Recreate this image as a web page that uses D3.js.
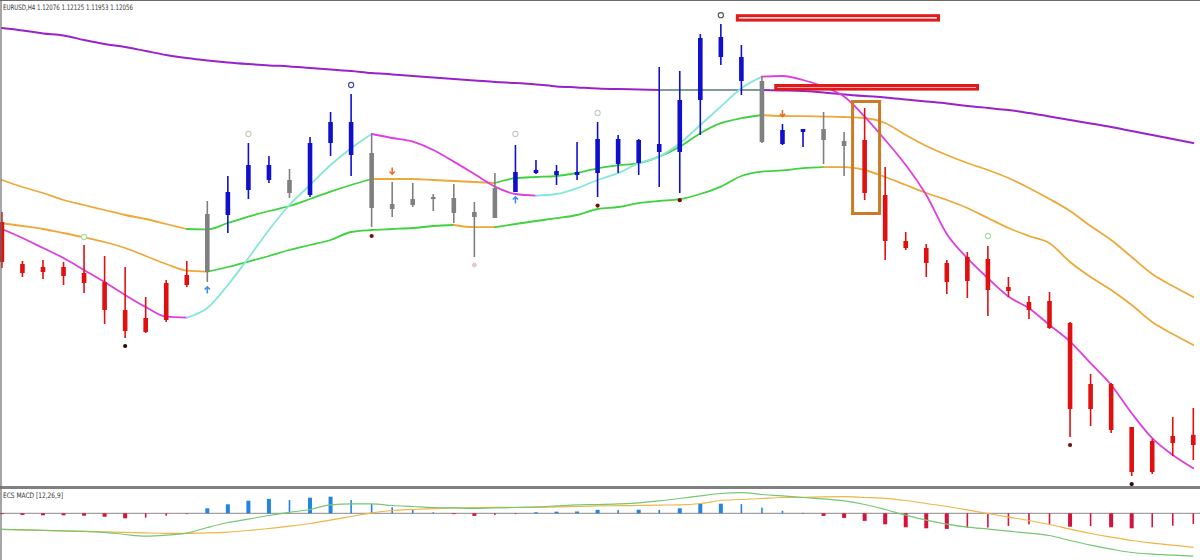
<!DOCTYPE html>
<html><head><meta charset="utf-8">
<script src="https://cdn.jsdelivr.net/npm/d3@7"></script>
<style>html,body{margin:0;padding:0;background:#fff;overflow:hidden}</style>
</head><body><svg id="c" width="1200" height="560"></svg>
<script>
const symbolName = "EURUSD,H4";
const quote = ["1.12076", "1.12125", "1.11953", "1.12056"];
const macdLabel = "ECS MACD [12,26,9]";

const opens  = [1.13140,1.12930,1.12915,1.12915,1.12885,1.12840,1.12700,1.12660,1.12650,1.12825,
  1.12890,1.13175,1.13300,1.13425,1.13350,1.13275,1.13535,1.13640,1.13485,1.13230,
  1.13225,1.13255,1.13260,1.13190,1.13160,1.13290,1.13385,1.13395,1.13375,1.13385,
  1.13555,1.13435,1.13530,1.13490,1.13750,1.14065,1.13965,1.13845,1.13530,1.13605,
  1.13605,1.13545,1.13550,1.13275,1.13045,1.13010,1.12935,1.12965,1.12955,1.12815,
  1.12740,1.12745,1.12635,1.12330,1.12330,1.12115,1.12045,1.12070,1.12076];
const highs  = [1.13190,1.12945,1.12950,1.12940,1.13025,1.12970,1.12915,1.12765,1.12850,1.12945,
  1.13245,1.13370,1.13535,1.13470,1.13405,1.13565,1.13690,1.13780,1.13575,1.13340,
  1.13335,1.13280,1.13330,1.13240,1.13385,1.13525,1.13450,1.13425,1.13540,1.13640,
  1.13575,1.13555,1.13915,1.13895,1.14080,1.14130,1.14025,1.13865,1.13630,1.13605,
  1.13690,1.13590,1.13710,1.13415,1.13090,1.13030,1.12950,1.12990,1.13020,1.12865,
  1.12770,1.12790,1.12640,1.12380,1.12335,1.12115,1.12055,1.12165,1.12210];
const lows   = [1.12910,1.12865,1.12855,1.12825,1.12785,1.12630,1.12560,1.12585,1.12640,1.12815,
  1.12840,1.13085,1.13255,1.13335,1.13260,1.13265,1.13470,1.13370,1.13115,1.13165,
  1.13215,1.13195,1.13135,1.12965,1.13160,1.13290,1.13380,1.13325,1.13350,1.13265,
  1.13385,1.13375,1.13315,1.13285,1.13575,1.13925,1.13775,1.13535,1.13525,1.13515,
  1.13430,1.13370,1.13250,1.12950,1.13000,1.12865,1.12780,1.12760,1.12670,1.12765,
  1.12655,1.12605,1.12065,1.12120,1.12085,1.11870,1.11880,1.11970,1.11950];
const closes = [1.12940,1.12885,1.12890,1.12870,1.12835,1.12700,1.12595,1.12590,1.12835,1.12875,
  1.13180,1.13290,1.13425,1.13350,1.13285,1.13535,1.13640,1.13475,1.13210,1.13205,
  1.13255,1.13265,1.13185,1.13165,1.13310,1.13390,1.13400,1.13375,1.13390,1.13555,
  1.13430,1.13550,1.13490,1.13750,1.14060,1.13965,1.13845,1.13540,1.13600,1.13590,
  1.13550,1.13520,1.13285,1.13045,1.13010,1.12935,1.12840,1.12845,1.12800,1.12795,
  1.12700,1.12610,1.12205,1.12205,1.12100,1.11890,1.11890,1.12035,1.12025];
// candle colour state: R = bearish trend, B = bullish trend, G = neutral
const candleState = "RRRRRRRRRRGBBBGBBBGGGGGGGBBBBBBBBBBBBGBBGGRRRRRRRRRRRRRRRRR";

const slowMA = [1.14110,1.14098,1.14083,1.14073,1.14050,1.14030,1.14015,1.13995,1.13975,1.13960,
  1.13948,1.13938,1.13930,1.13923,1.13918,1.13910,1.13903,1.13895,1.13885,1.13878,
  1.13870,1.13863,1.13855,1.13848,1.13840,1.13835,1.13828,1.13818,1.13813,1.13808,
  1.13805,1.13803,1.13800,1.13800,1.13800,1.13800,1.13800,1.13800,1.13798,1.13795,
  1.13788,1.13778,1.13770,1.13763,1.13753,1.13743,1.13733,1.13720,1.13710,1.13700,
  1.13685,1.13668,1.13650,1.13633,1.13615,1.13595,1.13575,1.13555,1.13535];
const slowState = "ppppppppppppppppppppppppppppppppp" + "fffff" + "ppppppppppppppppppppp";

const upperBand = [1.13350,1.13315,1.13285,1.13250,1.13225,1.13200,1.13175,1.13155,1.13130,1.13105,
  1.13103,1.13135,1.13167,1.13195,1.13220,1.13255,1.13292,1.13325,1.13355,1.13355,
  1.13355,1.13350,1.13345,1.13340,1.13335,1.13359,1.13365,1.13370,1.13385,1.13408,
  1.13423,1.13434,1.13467,1.13517,1.13584,1.13634,1.13659,1.13675,1.13670,1.13669,
  1.13667,1.13665,1.13660,1.13635,1.13575,1.13520,1.13475,1.13435,1.13400,1.13360,
  1.13310,1.13255,1.13195,1.13120,1.13050,1.12965,1.12880,1.12820,1.12765];
const upperState = "oooooooooo" + "ggggggggg" + "oooooo" + "ggggggggggggg" + "ooooooooooooooooooooo";

const lowerBand = [1.13134,1.13120,1.13105,1.13085,1.13063,1.13040,1.13010,1.12970,1.12930,1.12897,
  1.12892,1.12915,1.12942,1.12970,1.13000,1.13025,1.13050,1.13090,1.13100,1.13105,
  1.13110,1.13120,1.13125,1.13114,1.13114,1.13130,1.13145,1.13159,1.13175,1.13205,
  1.13215,1.13234,1.13245,1.13254,1.13280,1.13317,1.13370,1.13392,1.13398,1.13409,
  1.13414,1.13414,1.13400,1.13365,1.13325,1.13285,1.13250,1.13210,1.13160,1.13110,
  1.13070,1.13034,1.12940,1.12865,1.12800,1.12725,1.12640,1.12580,1.12525];
const lowerState = "ooooooooooo" + "gggggggggggg" + "oo" + "gggggggggggggggg" + "oooooooooooooooooo";

const fastMA = [1.13105,1.13060,1.13010,1.12960,1.12900,1.12840,1.12775,1.12715,1.12667,1.12662,
  1.12710,1.12825,1.12960,1.13100,1.13225,1.13325,1.13425,1.13509,1.13580,1.13560,
  1.13542,1.13500,1.13442,1.13380,1.13317,1.13280,1.13272,1.13280,1.13309,1.13350,
  1.13384,1.13434,1.13467,1.13534,1.13625,1.13717,1.13809,1.13867,1.13870,1.13850,
  1.13817,1.13767,1.13667,1.13550,1.13425,1.13275,1.13080,1.12959,1.12859,1.12767,
  1.12709,1.12625,1.12542,1.12434,1.12325,1.12184,1.12059,1.11975,1.11909];
const fastState = "dddddddddd" + "uuuuuuuuu" + "dddddddd" + "uuuuuuuuuuu" + "ddddddddddddddddddddd";

const macdHist = [-0.00002,-0.00008,-0.00010,-0.00010,-0.00012,-0.00017,-0.00025,-0.00022,-0.00012,-0.00002,
  0.00025,0.00045,0.00063,0.00072,0.00066,0.00078,0.00083,0.00066,0.00047,0.00030,
  0.00020,0.00005,-0.00003,-0.00013,-0.00008,-0.00001,0.00005,0.00008,0.00009,0.00017,
  0.00016,0.00018,0.00017,0.00025,0.00047,0.00048,0.00046,0.00028,0.00013,0.00002,
  -0.00013,-0.00023,-0.00038,-0.00055,-0.00070,-0.00075,-0.00078,-0.00072,-0.00071,-0.00063,
  -0.00055,-0.00053,-0.00067,-0.00064,-0.00070,-0.00075,-0.00070,-0.00062,-0.00053];
const macdMain = [-0.00080,-0.00083,-0.00085,-0.00088,-0.00090,-0.00095,-0.00106,-0.00114,-0.00109,-0.00099,
  -0.00071,-0.00046,-0.00029,-0.00011,0.00005,0.00019,0.00042,0.00047,0.00047,0.00039,
  0.00034,0.00029,0.00027,0.00025,0.00027,0.00029,0.00032,0.00037,0.00042,0.00044,
  0.00047,0.00052,0.00062,0.00074,0.00087,0.00099,0.00103,0.00094,0.00087,0.00079,
  0.00072,0.00062,0.00044,0.00019,-0.00009,-0.00034,-0.00054,-0.00069,-0.00079,-0.00089,
  -0.00099,-0.00111,-0.00136,-0.00159,-0.00179,-0.00196,-0.00204,-0.00209,-0.00214];
const macdSignal = [-0.00080,-0.00083,-0.00085,-0.00088,-0.00090,-0.00093,-0.00095,-0.00098,-0.00100,-0.00100,
  -0.00098,-0.00094,-0.00086,-0.00076,-0.00064,-0.00051,-0.00034,-0.00016,0.00002,0.00014,
  0.00019,0.00023,0.00027,0.00029,0.00030,0.00030,0.00030,0.00032,0.00034,0.00037,
  0.00038,0.00039,0.00041,0.00042,0.00049,0.00064,0.00069,0.00074,0.00079,0.00080,
  0.00082,0.00083,0.00079,0.00075,0.00064,0.00049,0.00034,0.00017,-0.00001,-0.00019,
  -0.00036,-0.00056,-0.00079,-0.00101,-0.00119,-0.00136,-0.00149,-0.00159,-0.00170];

// signal markers: candle index, kind, price
const markerIdx   = [4, 48, 12, 25, 29, 17, 35, 23, 6, 18, 29, 33, 52, 55, 10, 25, 19, 38];
const markerKind  = ["ringG","ringG","ringL","ringL","ringL","ringN","ringD","pink",
  "dotK","dotR","dotR","dotR","dotR","dotK","up","up","down","down"];
const markerPrice = [1.13065,1.13070,1.13580,1.13580,1.13685,1.13825,1.14174,1.12925,
  1.12520,1.13070,1.13222,1.13249,1.12025,1.11830,1.12800,1.13250,1.13395,1.13683];

// hand-drawn boxes: [startIndex, endIndex, topPrice, bottomPrice]
const boxStart = [35.73, 37.60, 41.34];
const boxEnd   = [45.67, 47.57, 42.80];
const boxTop   = [1.14179, 1.13830, 1.13750];
const boxBot   = [1.14142, 1.13797, 1.13175];
const boxKind  = ["red", "red", "orange"];

const N = opens.length;
const svg = d3.select("#c");
const x = d3.scaleLinear().domain([0, N - 1]).range([1.9, 1193.3]);
const y = d3.scaleLinear().domain([1.1180, 1.1425]).range([490, 0]);
const ym = d3.scaleLinear().domain([0, 0.001]).range([513.3, 493.3]);

svg.append("defs").html('<clipPath id="mainClip"><rect x="0" y="0" width="1200" height="486"/></clipPath><clipPath id="macdClip"><rect x="0" y="489" width="1200" height="71"/></clipPath>');

const main = svg.append("g").attr("clip-path", "url(#mainClip)");
const sub = svg.append("g").attr("clip-path", "url(#macdClip)");

function runs(states) {
  const out = [];
  let a = 0, st = states[1];
  for (let i = 2; i < N; i++) {
    if (states[i] !== st) { out.push([a, i - 1, st]); a = i - 1; st = states[i]; }
  }
  out.push([a, N - 1, st]);
  return out;
}
function drawSeries(g, vals, states, colors, width, sc) {
  const line = d3.line().x(i => x(i)).y(i => sc(vals[i])).curve(d3.curveMonotoneX);
  runs(states).forEach(([a, b, s]) => {
    g.append("path").attr("d", line(d3.range(a, b + 1)))
      .attr("fill", "none").attr("stroke", colors[s]).attr("stroke-width", width)
      .attr("stroke-linejoin", "round").attr("stroke-linecap", "round");
  });
}

const bandCol = { o: "#eea83a", g: "#3fd23f" };
drawSeries(main, slowMA, slowState, { p: "#9a22cc", f: "#7f9c94" }, 2, y);
drawSeries(main, upperBand, upperState, bandCol, 1.8, y);
drawSeries(main, lowerBand, lowerState, bandCol, 1.8, y);
drawSeries(main, fastMA, fastState, { d: "#dd3fdd", u: "#86e6d8" }, 1.8, y);

// candles
const candleCol = { R: "#e01010", B: "#1010cc", G: "#808080" };
const cg = main.append("g");
d3.range(N).forEach(i => {
  const c = candleCol[candleState[i]];
  cg.append("line").attr("x1", x(i)).attr("x2", x(i))
    .attr("y1", y(highs[i])).attr("y2", y(lows[i]))
    .attr("stroke", c).attr("stroke-width", 1.6);
  const t = y(Math.max(opens[i], closes[i])), b = y(Math.min(opens[i], closes[i]));
  cg.append("rect").attr("x", x(i) - 2.3).attr("width", 4.6)
    .attr("y", t).attr("height", Math.max(1.5, b - t)).attr("fill", c);
});

// markers
const mg = main.append("g");
const ringCol = { ringG: "#a6dca6", ringL: "#c4ccc4", ringN: "#3a48a8", ringD: "#505050" };
markerIdx.forEach((idx, k) => {
  const kind = markerKind[k];
  const px = x(idx), py = y(markerPrice[k]);
  const gg = mg.append("g").attr("transform", `translate(${px},${py})`);
  if (kind.startsWith("ring")) {
    gg.append("circle").attr("r", 2.6).attr("fill", "#fff").attr("stroke", ringCol[kind]).attr("stroke-width", 1.1);
  } else if (kind === "pink") {
    gg.append("circle").attr("r", 2).attr("fill", "#ecc6d0").attr("stroke", "#e2b2c0").attr("stroke-width", 0.6);
  } else if (kind === "dotK") {
    gg.append("circle").attr("r", 2.1).attr("fill", "#2a0a0a");
  } else if (kind === "dotR") {
    gg.append("circle").attr("r", 2.1).attr("fill", "#7a0c0c");
  } else if (kind === "up") {
    gg.append("path").attr("d", "M0,3.5 L0,-3 M-2.6,-0.4 L0,-3.2 L2.6,-0.4")
      .attr("fill", "none").attr("stroke", "#3a8ee8").attr("stroke-width", 1.5);
  } else if (kind === "down") {
    gg.append("path").attr("d", "M0,-3.5 L0,3 M-2.6,0.4 L0,3.2 L2.6,0.4")
      .attr("fill", "none").attr("stroke", "#ec6a2a").attr("stroke-width", 1.5);
  }
});

// boxes
const bx = main.append("g");
boxStart.forEach((s, k) => {
  const sw = 3;
  const x0 = x(s), x1 = x(boxEnd[k]), y0 = y(boxTop[k]), y1 = y(boxBot[k]);
  bx.append("rect").attr("x", x0 + sw / 2).attr("y", y0 + sw / 2)
    .attr("width", x1 - x0 - sw).attr("height", y1 - y0 - sw)
    .attr("fill", boxKind[k] === "red" ? "#fff" : "none")
    .attr("stroke", boxKind[k] === "red" ? "#e01a1a" : "#cc7a26")
    .attr("stroke-width", sw);
});

// MACD panel
sub.append("line").attr("x1", 0).attr("x2", 1200).attr("y1", ym(0)).attr("y2", ym(0))
  .attr("stroke", "#8a8a8a").attr("stroke-width", 1);
d3.range(N).forEach(i => {
  const v = macdHist[i], p = i > 0 ? macdHist[i - 1] : 0;
  const thick = (Math.sign(v) !== Math.sign(p)) || Math.abs(v) >= Math.abs(p);
  const w = thick ? 4 : 1.6;
  const c = v >= 0 ? "#2484e0" : "#d4143e";
  const t = Math.min(ym(v), ym(0)), h = Math.abs(ym(v) - ym(0));
  sub.append("rect").attr("x", x(i) - w / 2).attr("width", w)
    .attr("y", t).attr("height", Math.max(0.8, h)).attr("fill", c);
});
const ml = (vals) => d3.line().x((d, i) => x(i)).y(d => ym(d)).curve(d3.curveMonotoneX)(vals);
sub.append("path").attr("d", ml(macdSignal)).attr("fill", "none").attr("stroke", "#f0b448").attr("stroke-width", 1.2);
sub.append("path").attr("d", ml(macdMain)).attr("fill", "none").attr("stroke", "#74c874").attr("stroke-width", 1.2);

// frame
svg.append("rect").attr("x", 0).attr("y", 486).attr("width", 1200).attr("height", 3).attr("fill", "#808080");
svg.append("line").attr("x1", 1).attr("x2", 1).attr("y1", 0).attr("y2", 560).attr("stroke", "#6a6a6a").attr("stroke-width", 1.2);
svg.append("line").attr("x1", 0).attr("x2", 1200).attr("y1", 0.5).attr("y2", 0.5).attr("stroke", "#6a6a6a").attr("stroke-width", 1);

svg.append("text").attr("x", 3).attr("y", 9.5)
  .attr("font-family", "DejaVu Sans, sans-serif").attr("font-size", 7.5).attr("fill", "#333")
  .attr("textLength", 130).attr("lengthAdjust", "spacingAndGlyphs")
  .text(symbolName + "  " + quote.join(" "));
svg.append("text").attr("x", 3).attr("y", 497.5)
  .attr("font-family", "DejaVu Sans, sans-serif").attr("font-size", 7.5).attr("fill", "#333")
  .attr("textLength", 60).attr("lengthAdjust", "spacingAndGlyphs")
  .text(macdLabel);
</script></body></html>
